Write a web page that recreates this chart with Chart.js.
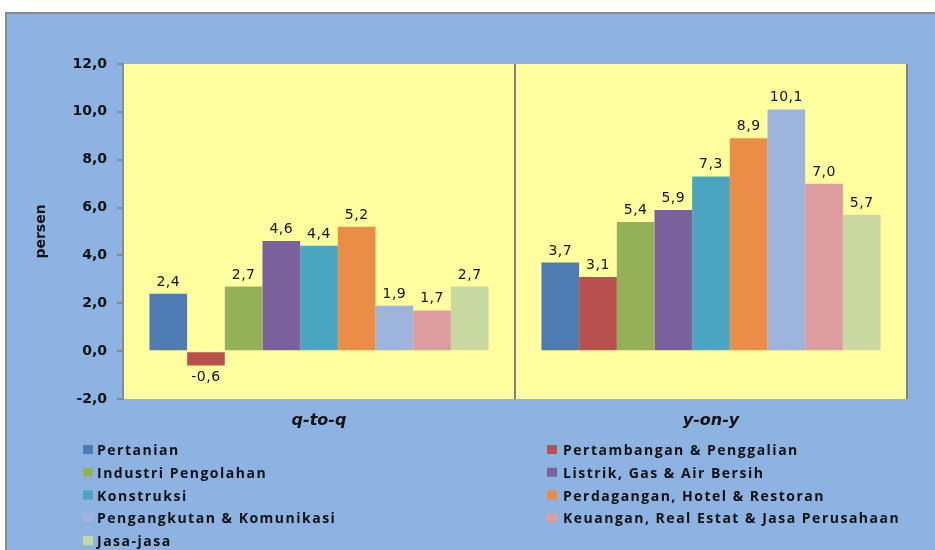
<!DOCTYPE html>
<html>
<head>
<meta charset="utf-8">
<script src="https://cdn.jsdelivr.net/npm/chart.js@4.4.1/dist/chart.umd.min.js"></script>
<style>
  body { margin: 0; background: #ffffff; }
  #chart { display: block; }
</style>
</head>
<body>
<canvas id="chart" width="935" height="550"></canvas>
<script>
// kategori dan sektor
const periods = ["q-to-q", "y-on-y"];
const sectors = [
  "Pertanian",
  "Pertambangan & Penggalian",
  "Industri Pengolahan",
  "Listrik, Gas & Air Bersih",
  "Konstruksi",
  "Perdagangan, Hotel & Restoran",
  "Pengangkutan & Komunikasi",
  "Keuangan, Real Estat & Jasa Perusahaan",
  "Jasa-jasa",
];
// nilai per sektor: [q-to-q, y-on-y]
const pertanian = [2.4, 3.7];
const pertambangan = [-0.6, 3.1];
const industri = [2.7, 5.4];
const listrik = [4.6, 5.9];
const konstruksi = [4.4, 7.3];
const perdagangan = [5.2, 8.9];
const pengangkutan = [1.9, 10.1];
const keuangan = [1.7, 7.0];
const jasa = [2.7, 5.7];
const yTicks = [-2, 0, 2, 4, 6, 8, 10, 12];

const sectorValues = [pertanian, pertambangan, industri, listrik, konstruksi, perdagangan, pengangkutan, keuangan, jasa];
const COLORS = ["#4f7bb3", "#b8504d", "#94b158", "#7b619b", "#4aa6c0", "#ea8d47", "#9db5dc", "#dd9c9e", "#c7d9a1"];

const fmt = (v) => v.toFixed(1).replace(".", ",");

// latar biru + area plot kuning
const backgroundPlugin = {
  id: "bg",
  beforeDraw(chart) {
    const ctx = chart.ctx;
    const a = chart.chartArea;
    ctx.save();
    ctx.fillStyle = "#ffffff";
    ctx.fillRect(0, 0, chart.width, chart.height);
    ctx.fillStyle = "#8db3e2";
    ctx.fillRect(5, 12, chart.width, chart.height);
    ctx.strokeStyle = "#8a8a8a";
    ctx.lineWidth = 2;
    ctx.beginPath();
    ctx.moveTo(6, chart.height);
    ctx.lineTo(6, 13);
    ctx.lineTo(chart.width, 13);
    ctx.stroke();
    ctx.fillStyle = "#ffff9f";
    ctx.fillRect(a.left, a.top, a.right - a.left, a.bottom - a.top);
    ctx.restore();
  },
};

// label nilai di atas / bawah batang
const valueLabels = {
  id: "valueLabels",
  afterDatasetsDraw(chart) {
    const ctx = chart.ctx;
    ctx.save();
    ctx.font = "14px 'DejaVu Sans'";
    ctx.letterSpacing = "0.5px";
    ctx.fillStyle = "#111111";
    ctx.textAlign = "center";
    chart.data.datasets.forEach((ds, i) => {
      chart.getDatasetMeta(i).data.forEach((bar, j) => {
        const v = ds.data[j];
        if (v >= 0) {
          ctx.textBaseline = "alphabetic";
          ctx.fillText(fmt(v), bar.x, bar.y - 8);
        } else {
          ctx.textBaseline = "top";
          ctx.fillText(fmt(v), bar.x, bar.y + 5);
        }
      });
    });
    ctx.restore();
  },
};

// legenda dua kolom
const twoColLegend = {
  id: "twoColLegend",
  afterDraw(chart) {
    const ctx = chart.ctx;
    ctx.save();
    ctx.font = "bold 14px 'Open Sans'";
    ctx.letterSpacing = "1.5px";
    ctx.textBaseline = "middle";
    ctx.textAlign = "left";
    chart.data.datasets.forEach((ds, i) => {
      const col = i % 2;
      const row = Math.floor(i / 2);
      const x = col === 0 ? 83 : 547;
      const tx = col === 0 ? 97 : 563;
      const y = 451 + row * 22.8;
      ctx.fillStyle = ds.backgroundColor;
      ctx.fillRect(x, y - 6, 10, 9);
      ctx.fillStyle = "#111111";
      ctx.fillText(ds.label, tx, y);
    });
    ctx.restore();
  },
};

const data = {
  labels: periods,
  datasets: sectors.map((name, i) => ({
    label: name,
    data: sectorValues[i],
    backgroundColor: COLORS[i],
    borderWidth: 0,
    categoryPercentage: 0.865,
    barPercentage: 1.0,
  })),
};

const config = {
  type: "bar",
  data,
  options: {
    responsive: false,
    animation: false,
    devicePixelRatio: 1,
    layout: { padding: { top: 64, right: 28, bottom: 111, left: 0 } },
    plugins: {
      legend: { display: false },
      tooltip: { enabled: false },
    },
    scales: {
      x: {
        grid: {
          offset: true,
          drawTicks: false,
          color: "#7f7f7f",
          lineWidth: 2,
        },
        border: { display: false },
        ticks: {
          padding: 12,
          color: "#111111",
          font: { family: "'DejaVu Sans'", size: 16, weight: "bold", style: "italic" },
        },
        afterFit(scale) { scale.height = 40; },
      },
      y: {
        min: -2,
        max: 12,
        afterBuildTicks(scale) { scale.ticks = yTicks.map((v) => ({ value: v })); },
        grid: {
          drawOnChartArea: false,
          drawTicks: true,
          tickLength: 6,
          color: "#8a8a8a",
          lineWidth: 2,
        },
        border: { display: true, color: "#8a8a8a", width: 2 },
        ticks: {
          padding: 10,
          color: "#111111",
          font: { family: "'DejaVu Sans'", size: 14, weight: "bold" },
          callback: (v) => fmt(v),
        },
        title: {
          display: true,
          text: "persen",
          color: "#111111",
          padding: { top: 33, bottom: 0 },
          font: { family: "'DejaVu Sans'", size: 14, weight: "bold" },
        },
        afterFit(scale) { scale.width = 123; },
      },
    },
  },
  plugins: [backgroundPlugin, valueLabels, twoColLegend],
};

const pdrbChart = new Chart(document.getElementById("chart"), config);
</script>
</body>
</html>
